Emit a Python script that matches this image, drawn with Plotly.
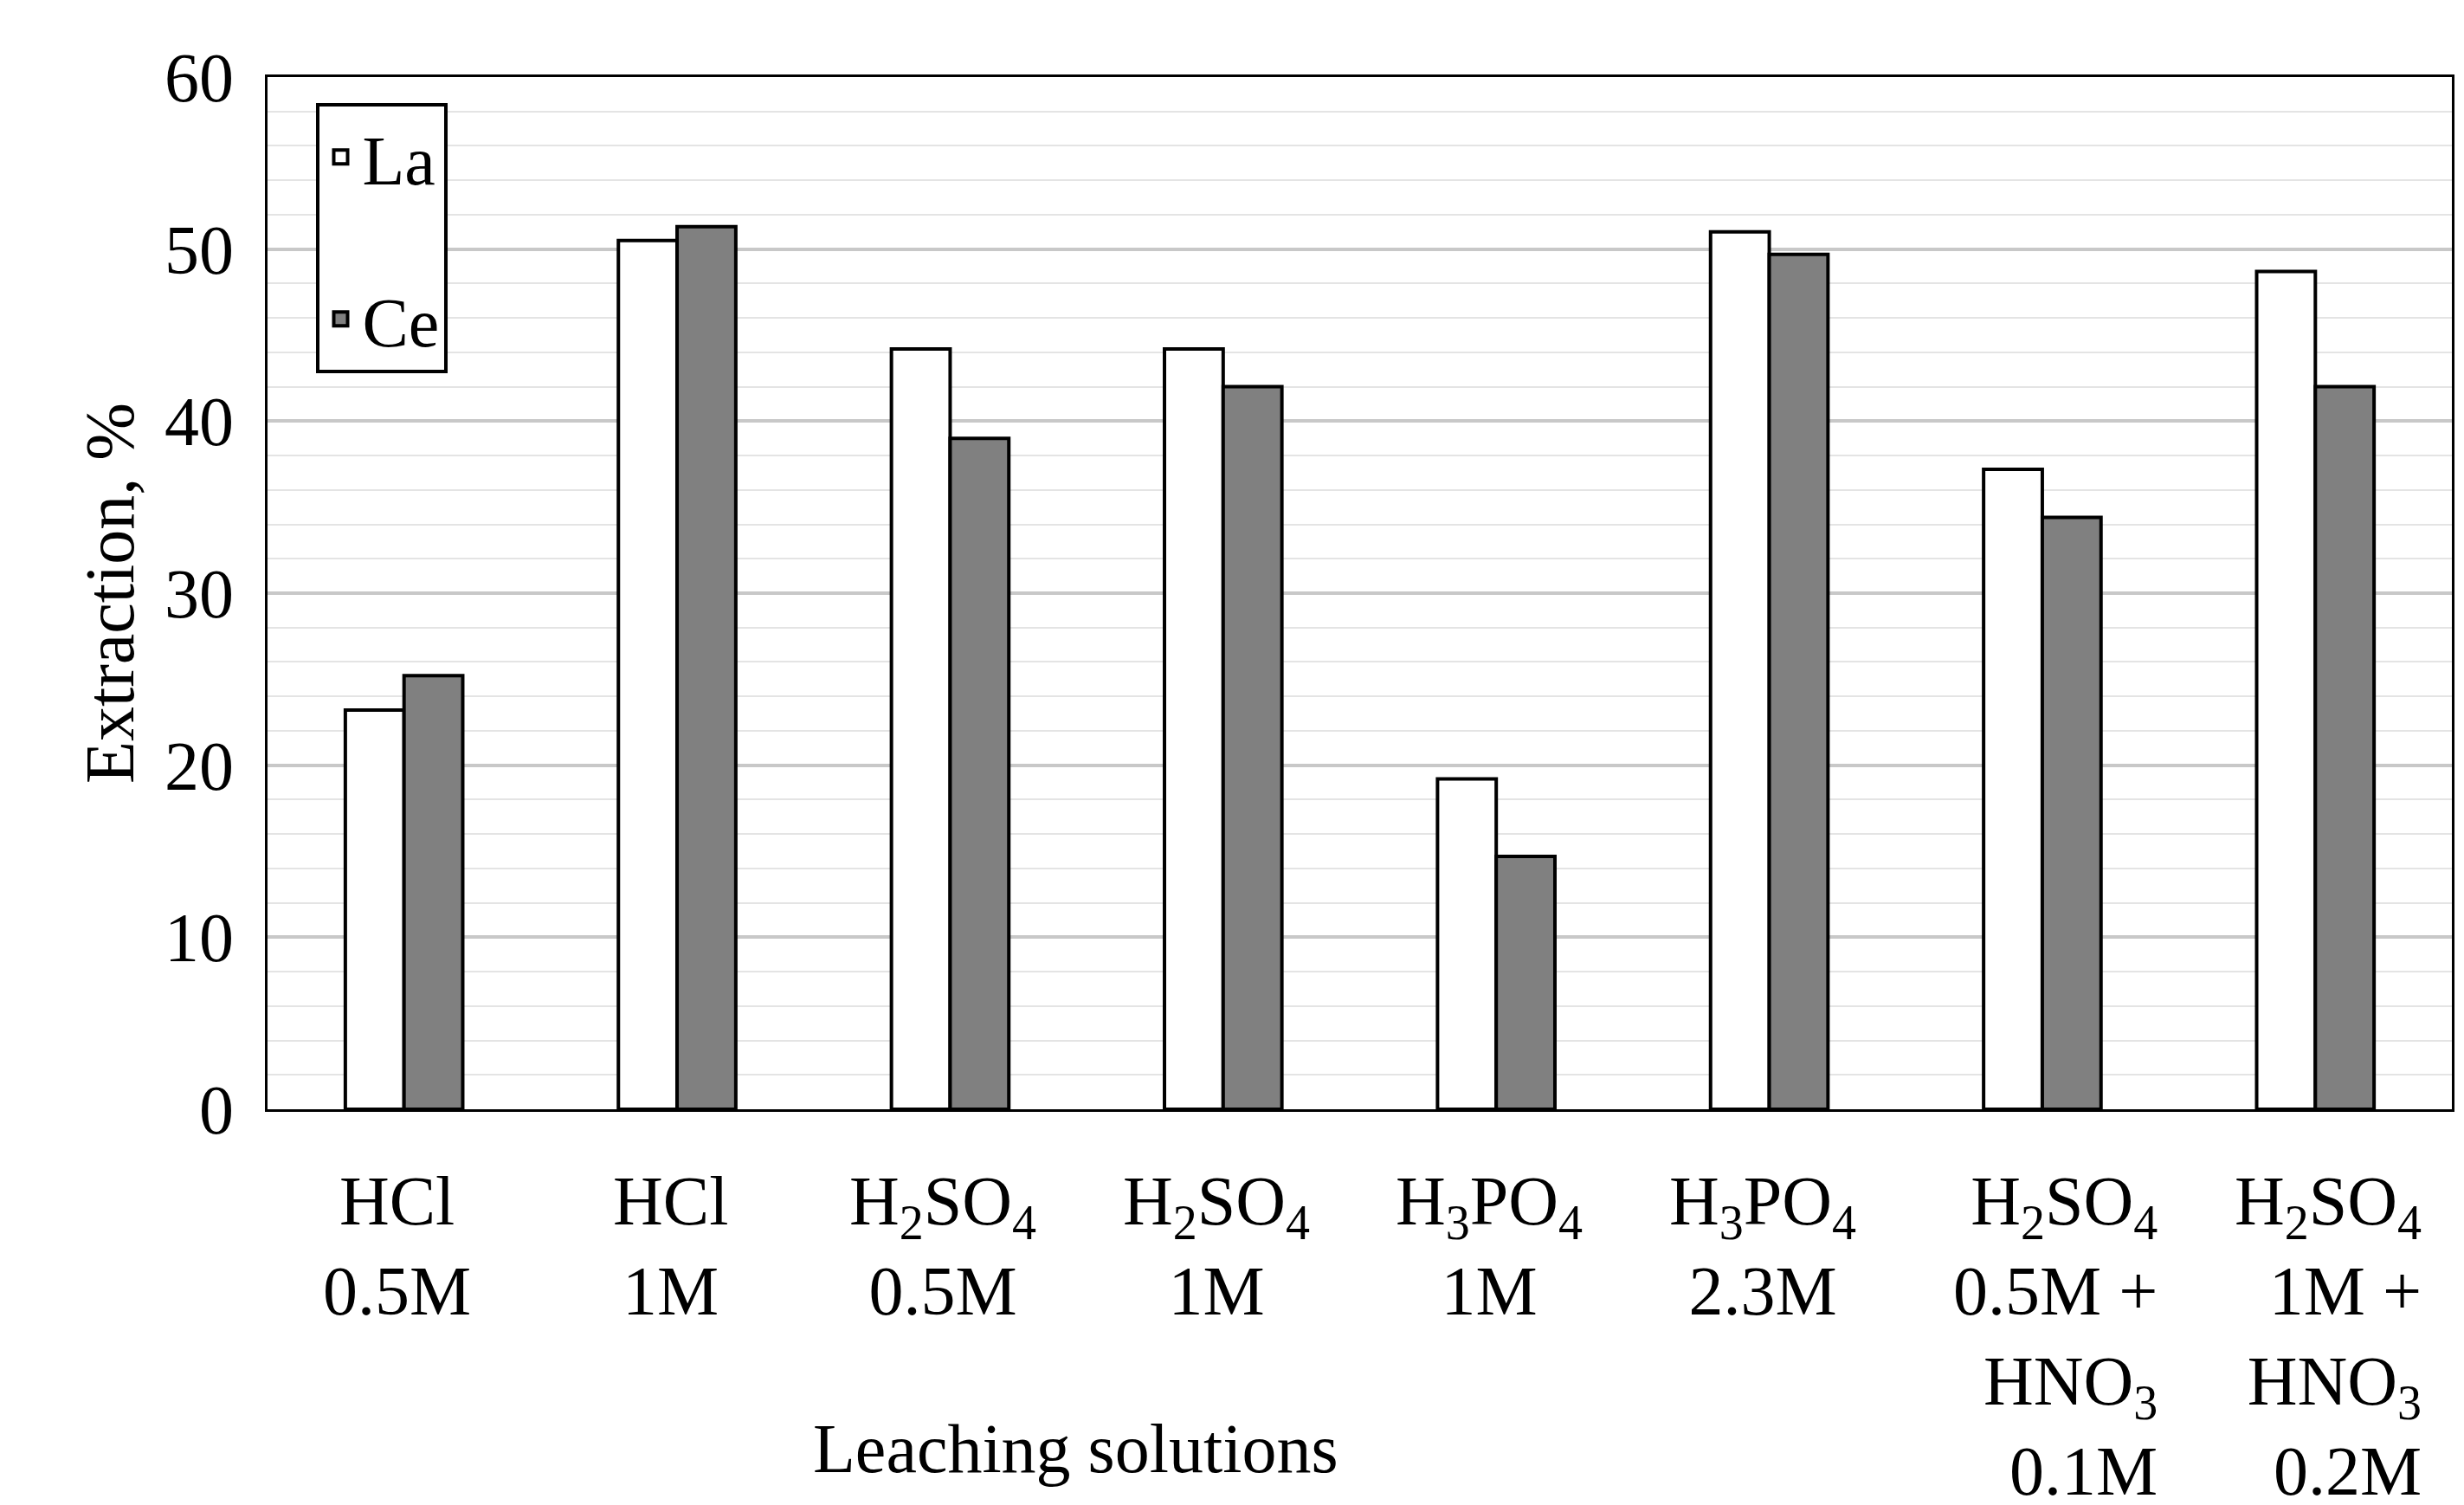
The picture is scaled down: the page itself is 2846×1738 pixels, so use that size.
import plotly.graph_objects as go

categories = ["HCl 0.5M", "HCl 1M", "H2SO4 0.5M", "H2SO4 1M", "H3PO4 1M", "H3PO4 2.3M",
              "H2SO4 0.5M + HNO3 0.1M", "H2SO4 1M + HNO3 0.2M"]
tick_labels = ["HCl<br>0.5M", "HCl<br>1M", "H<sub>2</sub>SO<sub>4</sub><br>0.5M",
               "H<sub>2</sub>SO<sub>4</sub><br>1M", "H<sub>3</sub>PO<sub>4</sub><br>1M",
               "H<sub>3</sub>PO<sub>4</sub><br>2.3M",
               "H<sub>2</sub>SO<sub>4</sub><br>0.5M +<br>HNO<sub>3</sub><br>0.1M",
               "H<sub>2</sub>SO<sub>4</sub><br>1M +<br>HNO<sub>3</sub><br>0.2M"]
la = [23.2, 50.5, 44.2, 44.2, 19.2, 51.0, 37.2, 48.7]
ce = [25.2, 51.3, 39.0, 42.0, 14.7, 49.7, 34.4, 42.0]

FONT = "Liberation Serif"
FS = 80

fig = go.Figure()
fig.add_bar(x=categories, y=la, name="La", marker=dict(color="white", line=dict(color="black", width=4)),
            showlegend=False)
fig.add_bar(x=categories, y=ce, name="Ce", marker=dict(color="#808080", line=dict(color="black", width=4)),
            showlegend=False)
# legend proxies
fig.add_scatter(x=[categories[0]], y=[None], mode="markers", name="La", legendgroup="a",
                marker=dict(symbol="square", size=40, color="white", line=dict(color="black", width=4)))
fig.add_scatter(x=[categories[0]], y=[None], mode="markers", name="Ce", legendgroup="b",
                marker=dict(symbol="square", size=40, color="#808080", line=dict(color="black", width=4)))

for i, t in enumerate(tick_labels):
    right = i >= 6
    fig.add_annotation(x=categories[i], y=-0.05, xref="x", yref="paper", text=t, showarrow=False,
                       yanchor="top", xanchor="center", align="right" if right else "center",
                       xshift=15 if right else -8,
                       font=dict(family=FONT, size=FS, color="black"))
fig.add_annotation(x=0.37, y=-0.29, xref="paper", yref="paper", text="Leaching solutions",
                   showarrow=False, yanchor="top", font=dict(family=FONT, size=FS, color="black"))

fig.update_layout(
    width=2846, height=1738,
    margin=dict(l=301, r=22, t=81, b=465),
    paper_bgcolor="white", plot_bgcolor="white",
    barmode="group", bargap=0.57, bargroupgap=0,
    font=dict(family=FONT, size=FS, color="black"),
    showlegend=True,
    legend=dict(x=0.022, y=0.975, xanchor="left", yanchor="top", bgcolor="white",
                bordercolor="black", borderwidth=4, tracegroupgap=80,
                font=dict(family=FONT, size=FS), itemwidth=40),
    xaxis=dict(showticklabels=False, showline=True, linecolor="black", linewidth=3, mirror=True,
               ticks=""),
    yaxis=dict(range=[0, 60], dtick=10, showline=True, linecolor="black", linewidth=3, mirror=True,
               gridcolor="#c8c8c8", gridwidth=4, ticks="", ticklabelstandoff=20,
               title=dict(text="Extraction, %", font=dict(family=FONT, size=FS), standoff=10),
               minor=dict(dtick=2, showgrid=True, gridcolor="#e4e4e4", gridwidth=2)),
)
fig.write_html("out.html")
